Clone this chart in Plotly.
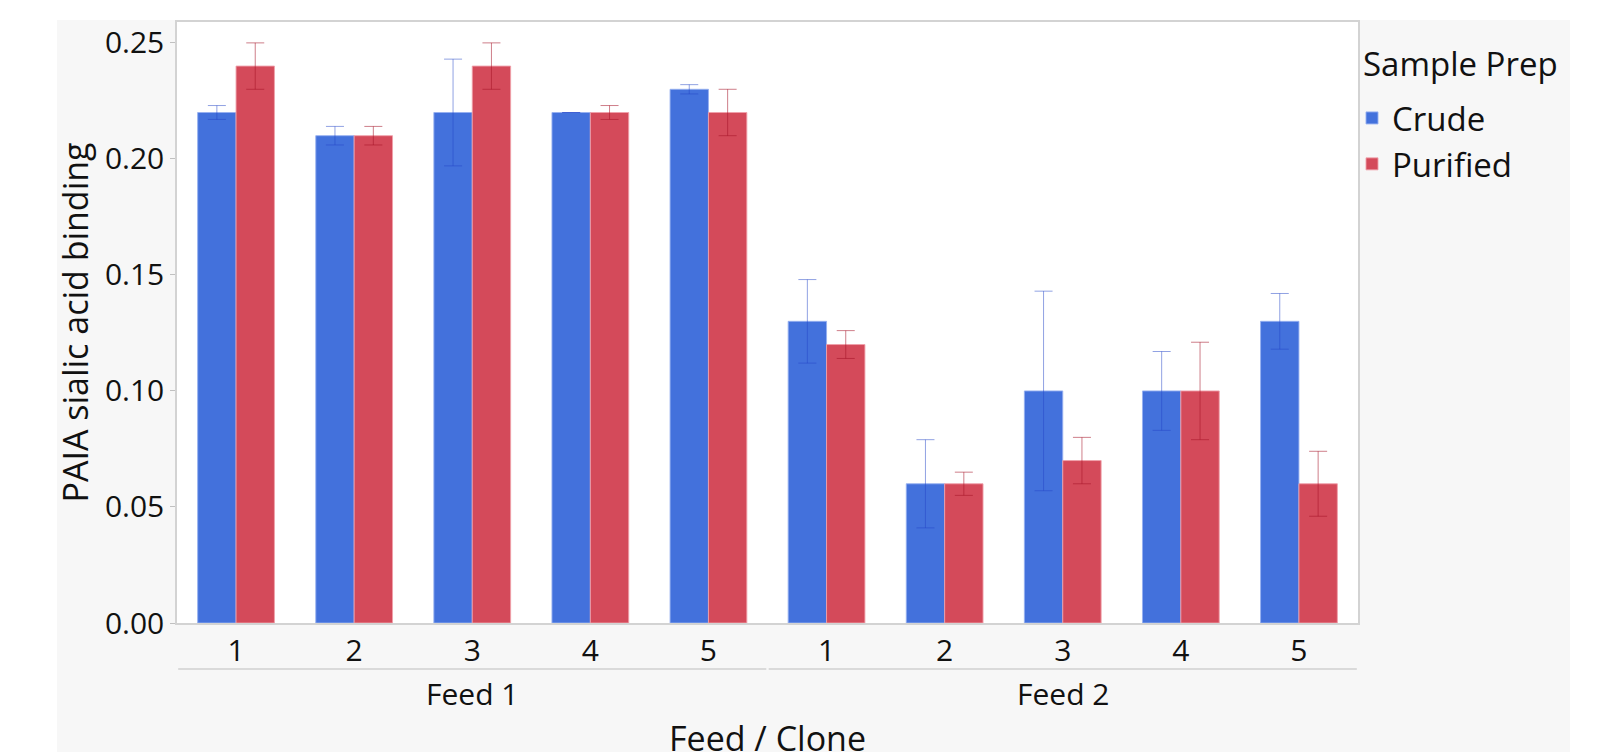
import plotly.graph_objects as go

# ---- data ----
feeds = ["Feed 1"] * 5 + ["Feed 2"] * 5
clones = ["1", "2", "3", "4", "5", "1", "2", "3", "4", "5"]
crude = [0.22, 0.21, 0.22, 0.22, 0.23, 0.13, 0.06, 0.10, 0.10, 0.13]
crude_err = [0.003, 0.004, 0.023, 0.0, 0.002, 0.018, 0.019, 0.043, 0.017, 0.012]
purified = [0.24, 0.21, 0.24, 0.22, 0.22, 0.12, 0.06, 0.07, 0.10, 0.06]
purified_err = [0.010, 0.004, 0.010, 0.003, 0.010, 0.006, 0.005, 0.010, 0.021, 0.014]
y_ticks = [0.00, 0.05, 0.10, 0.15, 0.20, 0.25]

FONT = "Open Sans"
W, H = 1601, 752
L, R, T, B = 177, 1358, 22, 623  # plot area in pixels


def px(x):
    return (x - L) / (R - L)


def py(y):
    return (B - y) / (B - T)


xpos = list(range(len(clones)))

fig = go.Figure()
fig.add_trace(go.Bar(
    x=xpos, y=crude, name="Crude",
    marker=dict(color="#4371DC", line=dict(color="rgba(150,175,240,0.9)", width=1)),
    error_y=dict(type="data", array=crude_err, visible=True,
                 color="rgba(35,70,200,0.5)", thickness=1, width=9),
))
fig.add_trace(go.Bar(
    x=xpos, y=purified, name="Purified",
    marker=dict(color="#D44A5A", line=dict(color="rgba(240,160,170,0.9)", width=1)),
    error_y=dict(type="data", array=purified_err, visible=True,
                 color="rgba(165,20,40,0.55)", thickness=1, width=9),
))

shapes = []
# white outer strips (paper is light gray)
shapes.append(dict(type="rect", xref="paper", yref="paper", layer="below",
                   x0=px(0), x1=px(57), y0=py(H), y1=py(0),
                   fillcolor="white", line=dict(width=0)))
shapes.append(dict(type="rect", xref="paper", yref="paper", layer="below",
                   x0=px(0), x1=px(W), y0=py(20), y1=py(0),
                   fillcolor="white", line=dict(width=0)))
shapes.append(dict(type="rect", xref="paper", yref="paper", layer="below",
                   x0=px(1570), x1=px(W), y0=py(H), y1=py(0),
                   fillcolor="white", line=dict(width=0)))

annotations = []
# group brackets + labels
groups = []
for i, f in enumerate(feeds):
    if not groups or groups[-1][0] != f:
        groups.append([f, i, i])
    else:
        groups[-1][2] = i
for name, i0, i1 in groups:
    shapes.append(dict(type="line", xref="x", yref="paper",
                       x0=i0 - 0.5 + 0.01, x1=i1 + 0.5 - 0.01,
                       y0=py(669), y1=py(669),
                       line=dict(color="#d0d0d0", width=1.5)))
    annotations.append(dict(x=(i0 + i1) / 2, xref="x", y=py(694), yref="paper",
                            text=name, showarrow=False, xanchor="center", yanchor="middle",
                            font=dict(family=FONT, size=30, color="#111")))

annotations.append(dict(x=0.5, xref="paper", y=py(738), yref="paper",
                        text="Feed / Clone", showarrow=False, xanchor="center", yanchor="middle",
                        font=dict(family=FONT, size=34, color="#111")))
annotations.append(dict(x=px(74), xref="paper", y=0.5, yref="paper",
                        text="PAIA sialic acid binding", showarrow=False, textangle=-90,
                        xanchor="center", yanchor="middle",
                        font=dict(family=FONT, size=34, color="#111")))
# legend title
annotations.append(dict(x=px(1361), xref="paper", y=py(63), yref="paper",
                        text="Sample Prep", showarrow=False, xanchor="left", yanchor="middle",
                        font=dict(family=FONT, size=33, color="#111")))

fig.update_layout(
    width=W, height=H,
    margin=dict(l=L, r=W - R, t=T, b=H - B, pad=0),
    paper_bgcolor="#f7f7f7", plot_bgcolor="white",
    barmode="group", bargap=0.35, bargroupgap=0,
    font=dict(family=FONT, color="#111"),
    showlegend=True,
    legend=dict(x=px(1352), xanchor="left", y=py(90), yanchor="top",
                bgcolor="rgba(0,0,0,0)", borderwidth=0,
                font=dict(family=FONT, size=33, color="#111"),
                tracegroupgap=0),
    shapes=shapes, annotations=annotations,
    xaxis=dict(tickmode="array", tickvals=xpos, ticktext=clones,
               range=[-0.5, len(clones) - 0.5],
               showline=True, linecolor="#d3d3d3", linewidth=1.5, mirror=True,
               showgrid=False, zeroline=False, ticks="",
               tickfont=dict(family=FONT, size=30, color="#111")),
    yaxis=dict(range=[0, 0.259], tickvals=y_ticks, tickformat=".2f",
               showline=True, linecolor="#d3d3d3", linewidth=1.5, mirror=True,
               showgrid=False, zeroline=False, ticks="outside", ticklen=5,
               tickcolor="#c0c0c0",
               tickfont=dict(family=FONT, size=30, color="#111")),
)

fig.write_html(
    "out.html",
    config={"displayModeBar": False},
    post_script="document.body.style.margin='0';document.body.style.overflow='hidden';",
)
